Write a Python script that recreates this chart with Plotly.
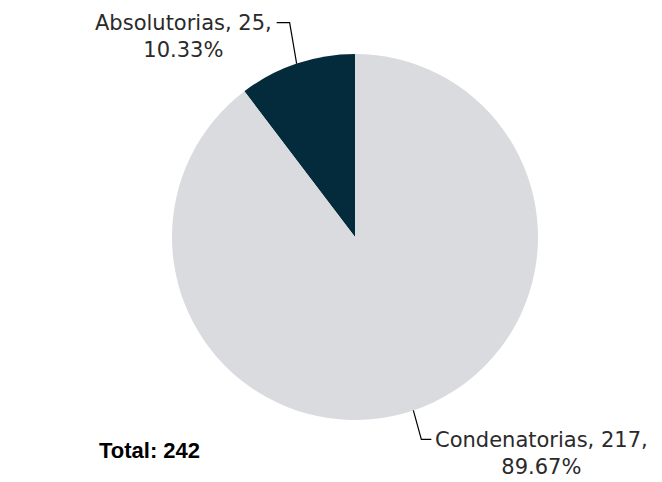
import plotly.graph_objects as go
import math

labels = ["Absolutorias", "Condenatorias"]
values = [25, 217]
colors = ["#032B3C", "#D9DBDF"]
total_text = "Total: 242"

# page body has an 8px margin, so the figure is shrunk and coordinates shifted
OFF = 8
W, H = 662 - 2 * OFF, 482 - OFF
cx, cy, r = 355, 237, 183  # pie centre / radius in reference pixels


def px(x):
    return (x - OFF) / W


def py(y):
    return 1 - (y - OFF) / H


total = sum(values)

fig = go.Figure()
fig.add_trace(
    go.Pie(
        labels=labels,
        values=values,
        marker=dict(colors=colors, line=dict(width=0)),
        sort=False,
        direction="counterclockwise",
        # first slice goes from 12 o'clock towards the left
        rotation=-values[0] / total * 360,
        textinfo="none",
        hoverinfo="label+value+percent",
        domain=dict(x=[px(cx - r), px(cx + r)], y=[py(cy + r), py(cy - r)]),
        showlegend=False,
    )
)

# leader line offsets (knee dx, dy) and horizontal tick length per label
knees = {"Absolutorias": (-7, -41, -13), "Condenatorias": (8, 29, 10)}

start = 0.0
font = dict(family="Century Gothic, DejaVu Sans, sans-serif", size=21, color="#2a2a2a")
for lab, v in zip(labels, values):
    frac = v / total
    mid = (start + frac / 2) * 2 * math.pi
    start += frac
    # counterclockwise from 12 o'clock
    ex = cx - r * math.sin(mid)
    ey = cy - r * math.cos(mid)
    dx, dy, tick = knees[lab]
    kx, ky = ex + dx, ey + dy
    hx = kx + tick
    fig.add_shape(
        type="path",
        xref="paper",
        yref="paper",
        path=f"M {px(ex)} {py(ey)} L {px(kx)} {py(ky)} L {px(hx)} {py(ky)}",
        line=dict(color="#000000", width=1.2),
    )
    anchor = "right" if tick < 0 else "left"
    fig.add_annotation(
        x=px(hx + (-3 if tick < 0 else 2)),
        y=py(ky + 14),
        xref="paper",
        yref="paper",
        text=f"{lab}, {v},<br>{frac * 100:.2f}%",
        showarrow=False,
        xanchor=anchor,
        yanchor="middle",
        align="center",
        font=font,
    )

fig.add_annotation(
    x=px(97),
    y=py(450),
    xref="paper",
    yref="paper",
    text=f"<b>{total_text}</b>",
    showarrow=False,
    xanchor="left",
    yanchor="middle",
    font=dict(family="Arial, Liberation Sans, sans-serif", size=22, color="#000000"),
)

fig.update_layout(
    width=W,
    height=H,
    margin=dict(l=0, r=0, t=0, b=0),
    paper_bgcolor="white",
    plot_bgcolor="white",
)

fig.write_html("out.html")
